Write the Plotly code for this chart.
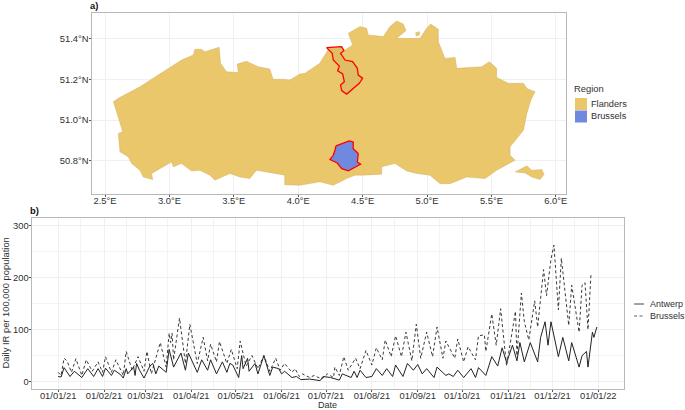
import pandas as pd
import plotly.graph_objects as go

# Map outlines (lon, lat)
flanders_lon = [2.565,2.603,2.771,2.939,3.094,3.185,3.198,3.249,3.275,3.386,3.397,3.443,3.534,3.526,3.598,3.689,3.779,3.805,3.882,3.934,4.012,4.050,4.167,4.231,4.220,4.337,4.355,4.422,4.389,4.479,4.531,4.544,4.661,4.712,4.764,4.816,4.837,4.764,4.907,4.946,4.997,5.028,5.088,5.088,5.140,5.218,5.231,5.334,5.425,5.484,5.541,5.541,5.632,5.749,5.775,5.839,5.806,5.775,5.749,5.645,5.645,5.684,5.541,5.451,5.308,5.179,5.101,5.023,4.920,4.842,4.751,4.648,4.648,4.505,4.440,4.376,4.272,4.168,4.013,3.895,3.895,3.753,3.676,3.624,3.547,3.469,3.353,3.314,3.236,3.172,3.094,3.030,3.017,2.926,2.862,2.870,2.797,2.771,2.707,2.681,2.616,2.603,2.637,2.565]
flanders_lat = [51.090,51.107,51.164,51.234,51.296,51.321,51.349,51.349,51.337,51.359,51.280,51.238,51.234,51.276,51.290,51.263,51.252,51.201,51.201,51.197,51.227,51.230,51.280,51.346,51.357,51.362,51.342,51.370,51.428,51.461,51.453,51.420,51.412,51.461,51.489,51.474,51.441,51.403,51.403,51.403,51.453,51.474,51.448,51.387,51.304,51.309,51.255,51.258,51.263,51.288,51.255,51.210,51.181,51.181,51.156,51.140,51.098,51.032,50.950,50.868,50.826,50.802,50.752,50.711,50.719,50.686,50.686,50.728,50.736,50.749,50.785,50.769,50.733,50.728,50.728,50.711,50.678,50.695,50.678,50.681,50.728,50.744,50.752,50.711,50.719,50.736,50.703,50.728,50.752,50.749,50.785,50.769,50.793,50.760,50.736,50.706,50.719,50.752,50.785,50.818,50.843,50.934,50.942,51.090]
voeren_lon = [5.684,5.775,5.813,5.891,5.909,5.878,5.813,5.762,5.684]
voeren_lat = [50.744,50.774,50.752,50.756,50.732,50.706,50.719,50.739,50.744]
baarle_lon = [4.912,4.941,4.941,4.915,4.912]
baarle_lat = [51.431,51.436,51.420,51.415,51.431]
brussels_lon = [4.293,4.350,4.396,4.427,4.427,4.466,4.459,4.484,4.389,4.337,4.303,4.246,4.272,4.285,4.293]
brussels_lat = [50.872,50.887,50.897,50.892,50.859,50.835,50.793,50.782,50.749,50.760,50.788,50.805,50.826,50.851,50.872]
antwerp_lon = [4.220,4.337,4.355,4.329,4.363,4.422,4.459,4.466,4.500,4.474,4.376,4.337,4.329,4.358,4.345,4.306,4.319,4.272,4.264,4.220]
antwerp_lat = [51.357,51.362,51.342,51.329,51.296,51.288,51.255,51.222,51.206,51.181,51.128,51.145,51.173,51.189,51.227,51.243,51.266,51.296,51.329,51.357]

# Time series: day offset from 2021-01-01 and daily IR
antwerp_days = [0,2,4,6,8,11,16,20,24,27,30,32,36,38,42,44,46,47,51,52,53,55,58,62,64,66,68,73,75,78,83,86,88,94,97,101,103,107,111,114,116,118,122,124,125,128,129,133,135,139,143,145,149,151,153,158,161,164,170,177,179,184,190,192,198,200,202,204,208,212,215,219,222,226,228,233,236,240,243,246,249,254,256,262,264,267,270,274,279,282,284,289,293,297,300,303,307,310,312,315,319,324,326,329,331,333,338,341,345,347,352,354,357,358,361,362,364]
antwerp_ir = [10,9,27,18,10,20,8,25,10,25,10,26,12,22,14,7,25,15,28,12,35,22,7,30,35,15,30,18,62,28,55,22,55,18,42,22,42,15,38,18,35,32,8,50,25,45,20,35,15,50,12,28,25,15,20,8,10,4,5,2,10,8,3,15,8,20,8,22,8,10,25,12,25,10,32,10,35,22,33,15,25,8,28,12,15,10,22,8,25,8,27,12,48,30,65,37,70,40,75,38,75,38,85,115,70,115,48,85,40,75,28,50,58,28,95,85,105]
brussels_days = [0,2,4,6,9,12,16,19,23,27,30,32,36,39,44,46,50,54,58,60,63,69,73,75,76,77,78,82,86,89,94,98,101,103,107,109,114,117,121,123,127,131,135,139,143,147,150,153,158,160,163,165,170,173,178,182,186,187,190,193,196,201,204,208,212,215,219,221,225,228,232,235,239,242,245,249,253,256,260,262,268,270,274,277,282,284,288,289,293,296,299,303,309,310,313,315,318,322,324,328,330,333,335,338,340,345,347,352,354,356,358,360]
brussels_ir = [18,12,45,40,18,44,12,42,20,38,18,48,18,42,12,58,22,48,20,58,15,75,28,93,75,93,42,122,35,110,35,85,40,72,38,77,35,62,25,78,30,50,25,50,20,45,22,35,18,25,10,15,8,12,5,15,8,28,12,48,22,45,25,60,32,65,42,80,48,88,48,95,40,110,45,95,48,105,45,78,45,82,38,67,42,88,90,58,130,70,140,30,135,50,170,115,80,155,105,215,165,235,262,138,237,108,185,95,185,190,100,205]

month_ticks = ["2021-%02d-01" % m for m in range(1, 13)] + ["2022-01-01"]
month_minor = ["2021-%02d-16" % m for m in range(1, 13)]
lon_ticks = [2.5,3.0,3.5,4.0,4.5,5.0,5.5,6.0]
lat_ticks = [50.8,51.0,51.2,51.4]
ir_ticks = [0,100,200,300]
ir_minor = [50,150,250]

FONT = "Liberation Sans"
TXT = "#303030"
FLAND = "#EAC76A"
BRUS = "#7088DE"
W, H = 685, 410
FS = 9.4
start = pd.Timestamp("2021-01-01")
fig = go.Figure()

def poly(lon, lat, fill, line="#C9AC5E", width=0.4):
    fig.add_trace(go.Scatter(x=lon, y=lat, mode="lines", fill="toself", fillcolor=fill,
                             line=dict(color=line, width=width), hoverinfo="skip",
                             showlegend=False, xaxis="x", yaxis="y"))

poly(flanders_lon, flanders_lat, FLAND)
poly(voeren_lon, voeren_lat, FLAND)
poly(baarle_lon, baarle_lat, FLAND)
poly(antwerp_lon, antwerp_lat, "rgba(150,125,60,0.12)", "#FF0000", 1.3)
poly(brussels_lon, brussels_lat, BRUS, "#FF0000", 1.3)

fig.add_trace(go.Scatter(x=start + pd.to_timedelta(brussels_days, unit="D"), y=brussels_ir,
                         mode="lines", line=dict(color="#222222", width=0.9, dash="3px,2.5px"),
                         name="Brussels", showlegend=False, xaxis="x2", yaxis="y2"))
fig.add_trace(go.Scatter(x=start + pd.to_timedelta(antwerp_days, unit="D"), y=antwerp_ir,
                         mode="lines", line=dict(color="#222222", width=1),
                         name="Antwerp", showlegend=False, xaxis="x2", yaxis="y2"))

axis = dict(showline=True, mirror=True, linecolor="#B8B8B8", linewidth=1, gridcolor="#F0F0F0", gridwidth=0.8,
            ticks="outside", ticklen=2, tickwidth=0.8, tickcolor="#555555", zeroline=False,
            automargin=False, tickfont=dict(family=FONT, size=FS, color=TXT))
xstand = dict(ticklabelstandoff=-4)
ystand = dict(ticklabelstandoff=-2)
minor = dict(gridcolor="#F3F3F3", gridwidth=0.5, ticks="", showgrid=True)

fig.update_layout(
    width=W, height=H, autosize=False, margin=dict(l=0, r=0, t=0, b=0), showlegend=False,
    paper_bgcolor="white", plot_bgcolor="white",
    font=dict(family=FONT, size=FS, color=TXT),
    xaxis=dict(axis, **xstand, domain=[91.5/W, 566/W], range=[2.395, 6.079], tickvals=lon_ticks,
               ticktext=[f"{v:.1f}°E" for v in lon_ticks], anchor="y"),
    yaxis=dict(axis, **ystand, domain=[1-194/H, 1-13/H], range=[50.635, 51.528], tickvals=lat_ticks,
               ticktext=[f"{v:.1f}°N" for v in lat_ticks], anchor="x"),
    xaxis2=dict(axis, **xstand, domain=[31.5/W, 623.5/W], type="date", range=["2020-12-14", "2022-01-18"],
                tickvals=month_ticks, tickformat="%d/%m/%y", minor=dict(minor, tickvals=month_minor),
                anchor="y2"),
    yaxis2=dict(axis, **ystand, domain=[1-389/H, 1-218/H], range=[-14, 314], tickvals=ir_ticks,
                minor=dict(minor, tickvals=ir_minor), anchor="x2"),
)

def label(x, y, text, bold=False, anchor="left", angle=0, size=FS):
    fig.add_annotation(xref="paper", yref="paper", x=x/W, y=1-y/H, text=f"<b>{text}</b>" if bold else text,
                       showarrow=False, xanchor=anchor, yanchor="middle", textangle=angle,
                       borderpad=0, borderwidth=0,
                       font=dict(family=FONT, size=size, color="#111111" if bold else TXT))

label(90, 5, "a)", True)
label(30, 210, "b)", True)
label(574, 89, "Region")
label(591, 104, "Flanders", size=9.2)
label(591, 116, "Brussels", size=9.2)
label(650, 304, "Antwerp", size=9)
label(650, 316, "Brussels", size=9)
label(327, 405.3, "Date", anchor="center", size=9)
label(4.5, 303, "Daily IR per 100,000 population", anchor="center", angle=-90)

def rect(x0, y0, x1, y1, color):
    fig.add_shape(type="rect", xref="paper", yref="paper", x0=x0/W, x1=x1/W, y0=1-y0/H, y1=1-y1/H,
                  fillcolor=color, line=dict(width=0))

rect(575, 98, 587, 110, FLAND)
rect(575, 110.5, 587, 122.5, BRUS)
for y, dash, w in [(304, "solid", 0.9), (316, "3px,2.5px", 0.8)]:
    fig.add_shape(type="line", xref="paper", yref="paper", x0=634/W, x1=644/W, y0=1-y/H, y1=1-y/H,
                  line=dict(color="#333333", width=w, dash=dash))

fig.write_html("out.html", config=dict(displayModeBar=False), post_script="document.body.style.margin='0';")
